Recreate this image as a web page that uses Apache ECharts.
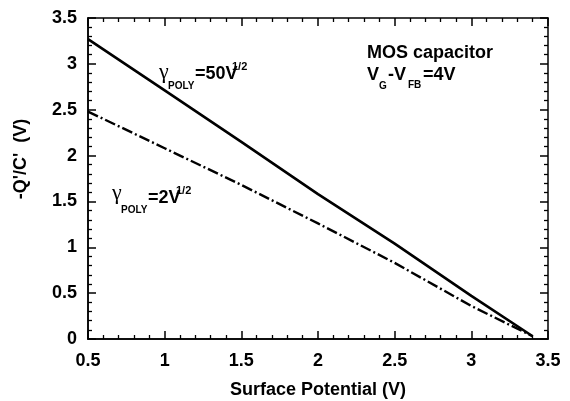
<!DOCTYPE html>
<html>
<head>
<meta charset="utf-8">
<script src="https://cdn.jsdelivr.net/npm/echarts@6/dist/echarts.min.js"></script>
<style>
  html, body { margin: 0; padding: 0; background: #fff; }
  #chart { width: 570px; height: 401px; }
</style>
</head>
<body>
<div id="chart"></div>
<script>
// surface potential (V)
var psiS = [0.5, 1.0, 1.5, 2.0, 2.5, 3.0, 3.4];
// -Q'/C' for gamma_poly = 50 V^1/2 (solid) and 2 V^1/2 (dash-dot)
var qPoly50 = [3.27, 2.71, 2.15, 1.58, 1.04, 0.47, 0.03];
var qPoly2 = [2.48, 2.08, 1.68, 1.26, 0.83, 0.36, 0.03];

var FONT = "'Liberation Sans', Arial, sans-serif";
var GRID = { left: 88, right: 22, top: 18, bottom: 62, containLabel: false, outerBoundsMode: 'none' };
var PLOT_W = 570 - GRID.left - GRID.right;
var PLOT_H = 401 - GRID.top - GRID.bottom;

function pairs(xs, ys) {
    return xs.map(function(x, i) { return [x, ys[i]]; });
}

// labelled axis, no ticks (inside ticks don't render, see tickAxis)
function labelAxis(pos, min, max) {
    return {
        type: 'value',
        gridIndex: 0,
        position: pos,
        min: min,
        max: max,
        interval: 0.5,
        axisLine: { show: true, onZero: false, lineStyle: { color: '#000', width: 1.5 } },
        axisTick: { show: false },
        splitLine: { show: false },
        axisLabel: {
            margin: 12,
            color: '#000',
            fontFamily: FONT,
            fontWeight: 'bold',
            fontSize: 18
        }
    };
}

// tick-only axis moved onto the opposite edge so its outside ticks point into the plot
function tickAxis(grid, pos, min, max, offset) {
    return {
        type: 'value',
        gridIndex: grid,
        position: pos,
        offset: offset,
        min: min,
        max: max,
        interval: 0.5,
        axisLine: { show: true, onZero: false, lineStyle: { color: '#000', width: 1.5 } },
        axisTick: { show: true, length: 8, lineStyle: { color: '#000', width: 1.5 } },
        minorTick: { show: true, splitNumber: 5, length: 4, lineStyle: { color: '#000', width: 1.3 } },
        splitLine: { show: false },
        axisLabel: { show: false }
    };
}

function txt(x, y, text, size, opts) {
    opts = opts || {};
    return {
        type: 'text',
        x: x,
        y: y,
        style: {
            text: text,
            fill: '#000',
            font: (opts.weight || 'bold') + ' ' + size + 'px ' + (opts.family || FONT),
            textAlign: 'left',
            textVerticalAlign: 'middle',
            verticalAlign: 'middle'
        }
    };
}

var chart = echarts.init(document.getElementById('chart'));

var xMain = labelAxis('bottom', 0.5, 3.5);
xMain.axisLabel.margin = 13;
xMain.name = 'Surface Potential (V)';
xMain.nameLocation = 'middle';
xMain.nameGap = 42;
xMain.nameTextStyle = { color: '#000', fontFamily: FONT, fontWeight: 'bold', fontSize: 18 };

var yMain = labelAxis('left', 0, 3.5);
yMain.axisLabel.margin = 11;

var serif = { weight: 'normal', family: "'Liberation Serif', 'Times New Roman', serif" };

chart.setOption({
    animation: false,
    backgroundColor: '#fff',
    // second grid on the same rectangle only carries the top/right tick axes
    grid: [GRID, Object.assign({}, GRID)],
    xAxis: [
        xMain,
        tickAxis(0, 'top', 0.5, 3.5, -PLOT_H),    // bottom edge, ticks up
        tickAxis(1, 'bottom', 0.5, 3.5, -PLOT_H)  // top edge, ticks down
    ],
    yAxis: [
        yMain,
        tickAxis(0, 'right', 0, 3.5, -PLOT_W),    // left edge, ticks right
        tickAxis(1, 'left', 0, 3.5, -PLOT_W)      // right edge, ticks left
    ],
    graphic: [
        {
            type: 'text',
            x: 21,
            y: 159,
            rotation: Math.PI / 2,
            style: {
                text: "-Q'/C'  (V)",
                fill: '#000',
                font: 'bold 18px ' + FONT,
                textAlign: 'center',
                textVerticalAlign: 'middle',
                verticalAlign: 'middle'
            }
        },
        // gamma_poly = 50 V^1/2
        txt(159, 72, 'γ', 22, serif),
        txt(168, 86, 'POLY', 10),
        txt(195, 74, '=50V', 18),
        txt(232, 67, '1/2', 11),
        // gamma_poly = 2 V^1/2
        txt(112, 193, 'γ', 22, serif),
        txt(121, 210, 'POLY', 10),
        txt(148, 198, '=2V', 18),
        txt(176, 191, '1/2', 11),
        // MOS capacitor, VG - VFB = 4V
        txt(367, 53, 'MOS capacitor', 18),
        txt(367, 75, 'V', 18),
        txt(379, 86, 'G', 10),
        txt(388, 75, '-V', 18),
        txt(408, 85, 'FB', 10),
        txt(423, 75, '=4V', 18)
    ],
    series: [
        {
            type: 'line',
            xAxisIndex: 0,
            yAxisIndex: 0,
            data: pairs(psiS, qPoly50),
            showSymbol: false,
            lineStyle: { color: '#000', width: 2.6, type: 'solid' }
        },
        {
            type: 'line',
            xAxisIndex: 0,
            yAxisIndex: 0,
            data: pairs(psiS, qPoly2),
            showSymbol: false,
            lineStyle: { color: '#000', width: 2.4, type: [11, 3, 2, 3] }
        }
    ]
});
</script>
</body>
</html>
